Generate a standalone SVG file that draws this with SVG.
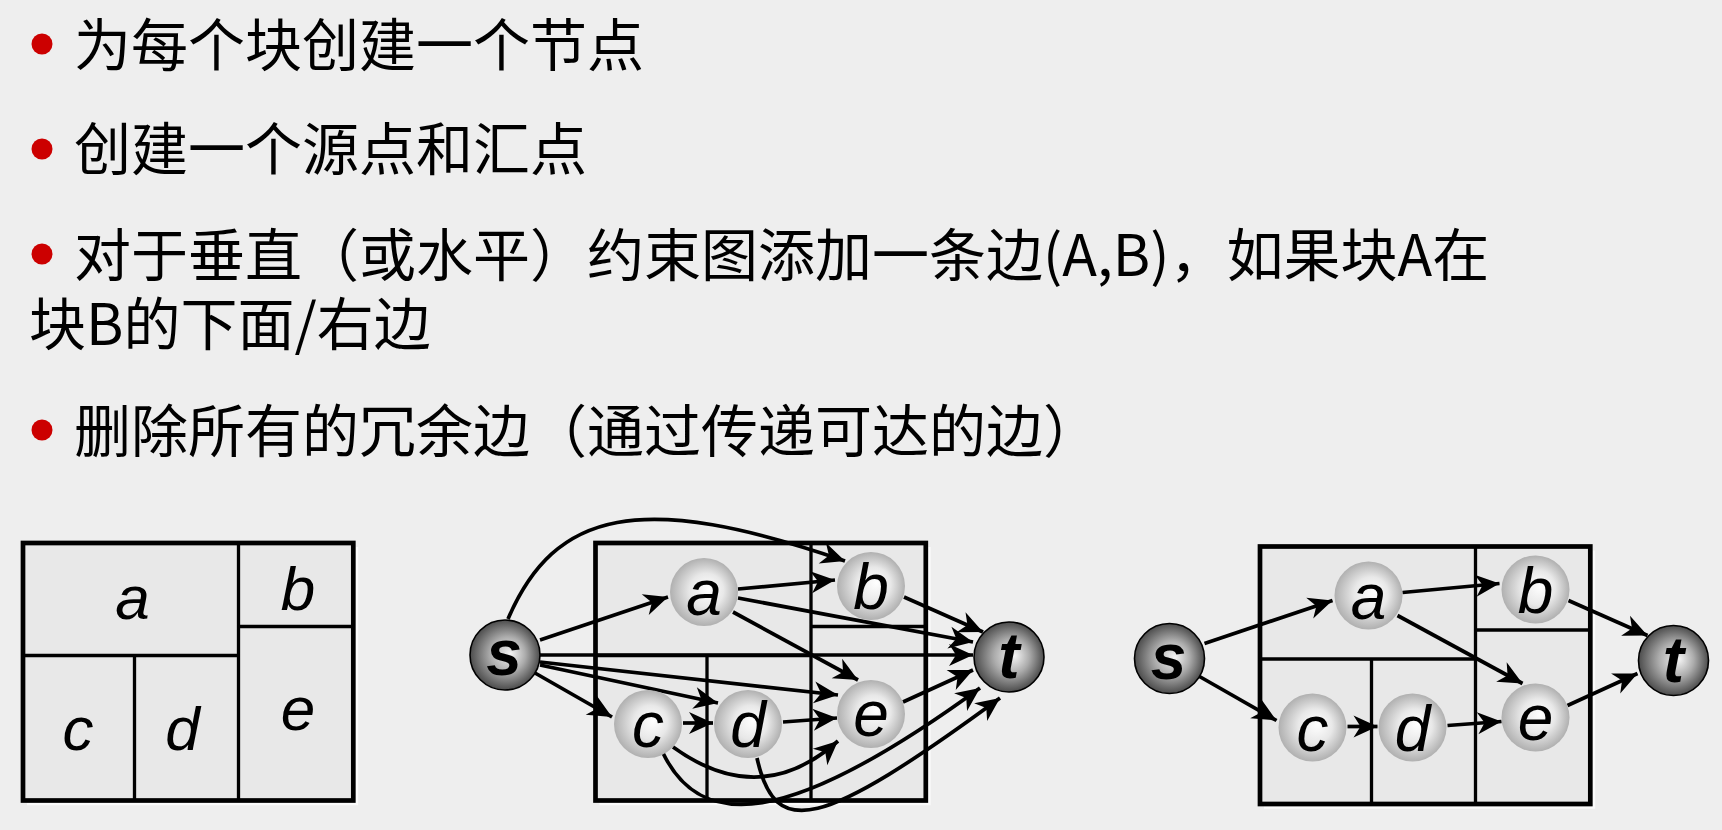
<svg xmlns="http://www.w3.org/2000/svg" width="1722" height="830" viewBox="0 0 1722 830">
<defs>
<style>
.txt{font-family:"Noto Sans CJK SC","Noto Sans",sans-serif;font-size:57px;fill:#000}
.bul{fill:#cc0000}
.blk{fill:#e8e8e8;stroke:#000;stroke-width:4.7}
.shd{fill:none;stroke:#fbfbfb;stroke-width:2.5}
.div{fill:none;stroke:#000;stroke-width:3.3}
.lbl{font-family:"Liberation Sans",Arial,sans-serif;font-style:italic;font-size:62px;text-anchor:middle;fill:#000}
.edge{fill:none;stroke:#000;stroke-width:3.7;marker-end:url(#arr)}
.light{fill:url(#gLight)}
.dark{fill:url(#gDark);stroke:#000;stroke-width:1.6}
.nl{font-family:"Liberation Sans",Arial,sans-serif;font-style:italic;font-size:64px;text-anchor:middle;fill:#000}
.nb{font-weight:bold;font-size:64px}
</style>
<radialGradient id="gLight" cx="50%" cy="50%" r="50%" fx="58%" fy="45%">
<stop offset="0" stop-color="#ffffff"/>
<stop offset="0.5" stop-color="#e8e8e8"/>
<stop offset="1" stop-color="#b0b0b0"/>
</radialGradient>
<radialGradient id="gDark" cx="50%" cy="50%" r="50%" fx="58%" fy="48%">
<stop offset="0" stop-color="#f5f5f5"/>
<stop offset="0.5" stop-color="#acacac"/>
<stop offset="1" stop-color="#4c4c4c"/>
</radialGradient>
<marker id="arr" viewBox="-26 -13 28 26" refX="0" refY="0" markerWidth="28" markerHeight="26" markerUnits="userSpaceOnUse" orient="auto">
<path d="M0,0 L-24,-11 L-17,0 L-24,11 Z" fill="#000"/>
</marker>
<g id="blocks">
<path class="shd" d="M599.5,804.1 H929.4 V547"/>
<rect class="blk" x="595.5" y="543" width="330.3" height="257.5"/>
<path class="div" d="M811,543 V800.5 M595.5,655.5 H811 M707,655.5 V800.5 M811,626.5 H925.8"/>
</g>
</defs>
<rect width="1722" height="830" fill="#eeeeee"/>

<g id="text">
<circle class="bul" cx="42" cy="44" r="10.5"/>
<text class="txt" x="74" y="66">为每个块创建一个节点</text>
<circle class="bul" cx="42" cy="149" r="10.5"/>
<text class="txt" x="74" y="170">创建一个源点和汇点</text>
<circle class="bul" cx="42" cy="254" r="10.5"/>
<text class="txt" x="74" y="276">对于垂直（或水平）约束图添加一条边(A,B)，如果块A在</text>
<text class="txt" x="29" y="345">块B的下面/右边</text>
<circle class="bul" cx="42" cy="430" r="10.5"/>
<text class="txt" x="74" y="452">删除所有的冗余边（通过传递可达的边）</text>
</g>

<g id="layout">
<use href="#blocks" transform="translate(-572.5,0)"/>
<text class="lbl" x="132.5" y="619">a</text>
<text class="lbl" x="298" y="610">b</text>
<text class="lbl" x="78" y="750">c</text>
<text class="lbl" x="182.5" y="750">d</text>
<text class="lbl" x="298" y="730">e</text>
</g>

<g id="graph-full">
<use href="#blocks"/>
<g id="full-connectors">
<path class="edge" d="M540,640 L668,597"/>
<path class="edge" d="M508,619 C555,510 640,490 845,561"/>
<path class="edge" d="M738,589 L835,580"/>
<path class="edge" d="M738,598 L973,642"/>
<path class="edge" d="M733,612 L858,680"/>
<path class="edge" d="M904,597 L983,632"/>
<path class="edge" d="M540,655 L973,655"/>
<path class="edge" d="M540,662 L838,695"/>
<path class="edge" d="M540,665 L718,703"/>
<path class="edge" d="M535,673 L612,717"/>
<path class="edge" d="M683,723 L713,723"/>
<path class="edge" d="M783,722 L837,718"/>
<path class="edge" d="M673,747 Q760,810 838,741"/>
<path class="edge" d="M663,753 C700,830 785,830 980,688"/>
<path class="edge" d="M757,758 C775,840 820,830 1000,698"/>
<path class="edge" d="M903,702 L973,670"/>
</g>
<g id="full-s"><circle class="dark" cx="505" cy="655" r="35"/><text class="nl nb" x="504" y="675">s</text></g>
<g id="full-a"><circle class="light" cx="704" cy="592" r="34"/><text class="nl" x="704" y="615">a</text></g>
<g id="full-b"><circle class="light" cx="871" cy="586" r="34"/><text class="nl" x="871" y="609">b</text></g>
<g id="full-c"><circle class="light" cx="648" cy="724" r="34"/><text class="nl" x="648" y="747">c</text></g>
<g id="full-d"><circle class="light" cx="748" cy="724" r="34"/><text class="nl" x="748" y="747">d</text></g>
<g id="full-e"><circle class="light" cx="871" cy="714" r="34"/><text class="nl" x="871" y="736">e</text></g>
<g id="full-t"><circle class="dark" cx="1009" cy="657" r="35"/><text class="nl nb" x="1009" y="678">t</text></g>
</g>

<g id="graph-reduced" transform="translate(664.5,3.5)">
<use href="#blocks"/>
<g id="reduced-connectors">
<path class="edge" d="M540,640 L668,597"/>
<path class="edge" d="M535,673 L612,717"/>
<path class="edge" d="M683,723 L713,723"/>
<path class="edge" d="M738,589 L835,580"/>
<path class="edge" d="M733,612 L858,680"/>
<path class="edge" d="M783,722 L837,718"/>
<path class="edge" d="M904,597 L983,632"/>
<path class="edge" d="M903,702 L973,670"/>
</g>
<g id="red-s"><circle class="dark" cx="505" cy="655" r="35"/><text class="nl nb" x="504" y="675">s</text></g>
<g id="red-a"><circle class="light" cx="704" cy="592" r="34"/><text class="nl" x="704" y="615">a</text></g>
<g id="red-b"><circle class="light" cx="871" cy="586" r="34"/><text class="nl" x="871" y="609">b</text></g>
<g id="red-c"><circle class="light" cx="648" cy="724" r="34"/><text class="nl" x="648" y="747">c</text></g>
<g id="red-d"><circle class="light" cx="748" cy="724" r="34"/><text class="nl" x="748" y="747">d</text></g>
<g id="red-e"><circle class="light" cx="871" cy="714" r="34"/><text class="nl" x="871" y="736">e</text></g>
<g id="red-t"><circle class="dark" cx="1009" cy="657" r="35"/><text class="nl nb" x="1009" y="678">t</text></g>
</g>
</svg>
